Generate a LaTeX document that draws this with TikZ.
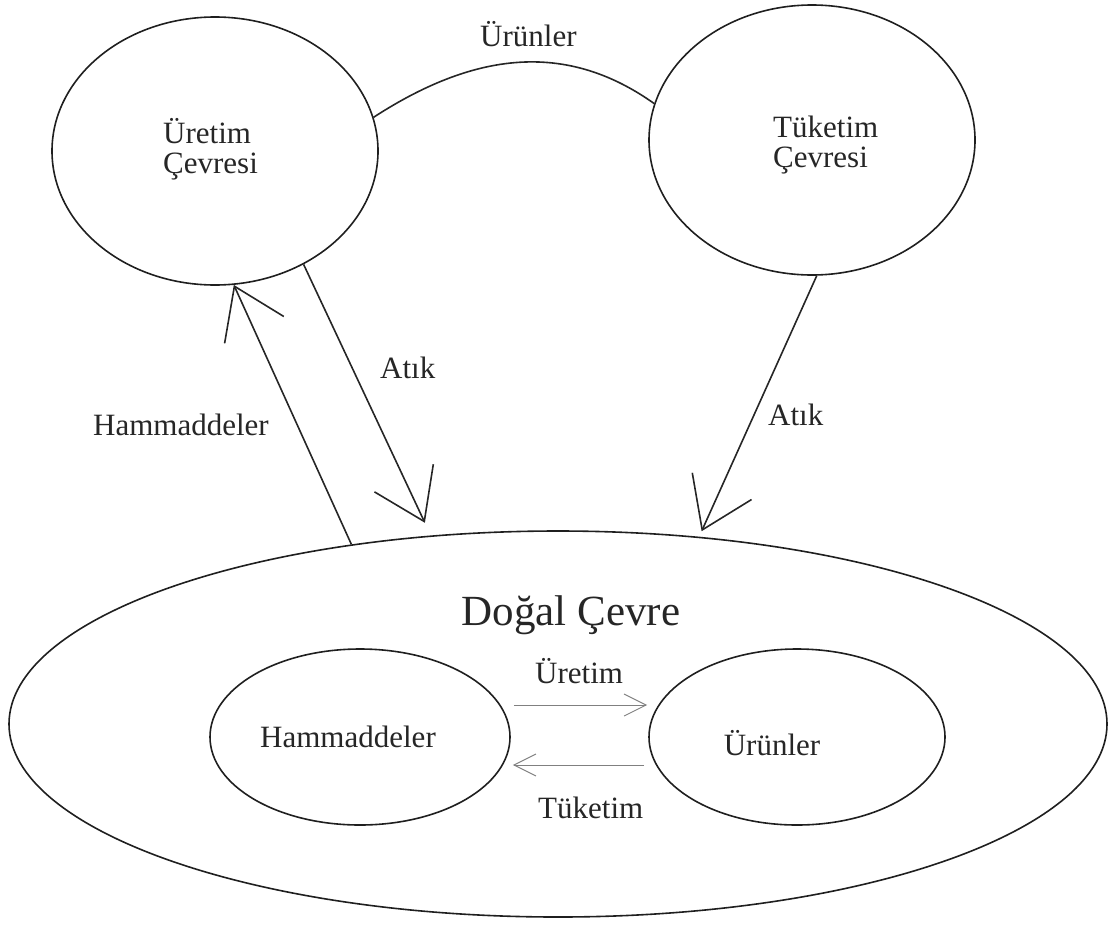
\documentclass[tikz,border=0pt]{standalone}
\usepackage{fontspec}
\setmainfont{Liberation Serif}
\usetikzlibrary{shapes.geometric,arrows.meta}
\begin{document}
\begin{tikzpicture}[x=1pt,y=-1pt,
  oval/.style={draw=black!88, line width=1.6pt, ellipse, inner sep=0pt},
  lbl/.style={font=\fontsize{31}{31}\selectfont, text=black!85, inner sep=0pt},
  biglbl/.style={font=\fontsize{43}{43}\selectfont, text=black!85, inner sep=0pt},
  conn/.style={draw=black!85, line width=1.6pt},
  bigarrow/.style={draw=black!85, line width=1.6pt, -{Straight Barb[length=48pt,width=65pt]}},
  smallarrow/.style={draw=black!50, line width=1pt, -{Straight Barb[length=22pt,width=22pt]}}
]
\useasboundingbox (0,0) rectangle (1115,932);
% ellipses
\node[oval, minimum width=326pt, minimum height=268pt] (ue) at (215,151) {};
\node[oval, minimum width=326pt, minimum height=270pt] (te) at (812,140) {};
\node[oval, minimum width=1098pt, minimum height=386pt] (dc) at (558,724) {};
\node[oval, minimum width=300pt, minimum height=176pt] (hm) at (360,737) {};
\node[oval, minimum width=296pt, minimum height=176pt] (ur) at (797,737) {};
% texts
\node[lbl, anchor=base west] (t1) at (163,143) {Üretim};
\node[lbl, anchor=base west] (t2) at (163,173) {Çevresi};
\node[lbl, anchor=base west] (t3) at (773,137) {Tüketim};
\node[lbl, anchor=base west] (t4) at (773,167) {Çevresi};
\node[lbl, anchor=base west] (lur) at (480,46) {Ürünler};
\node[lbl, anchor=base west] (la1) at (380,378) {Atık};
\node[lbl, anchor=base west] (la2) at (768,425) {Atık};
\node[lbl, anchor=base west] (lhm) at (93,435) {Hammaddeler};
\node[biglbl, anchor=base] (ldc) at (571,625) {Doğal Çevre};
\node[lbl, anchor=base] (thm) at (348,747) {Hammaddeler};
\node[lbl, anchor=base] (tur) at (772,755) {Ürünler};
\node[lbl, anchor=base west] (lue) at (535,683) {Üretim};
\node[lbl, anchor=base west] (ltu) at (538,818) {Tüketim};
% connectors
\draw[conn] (ue.12) .. controls (480.7,47.7) and (570.7,44.3) .. (te.167);
\draw[bigarrow] (dc.139) -- (ue.278);
\draw[bigarrow, shorten >=14pt] (ue.308) -- (dc.124);
\draw[bigarrow, shorten >=6pt] (te.272) -- (dc.53);
\draw[smallarrow] ([shift={(3,-32)}]hm.east) -- ([shift={(-1,-32)}]ur.west);
\draw[smallarrow] ([shift={(-4,28)}]ur.west) -- ([shift={(2,28)}]hm.east);
\end{tikzpicture}
\end{document}
